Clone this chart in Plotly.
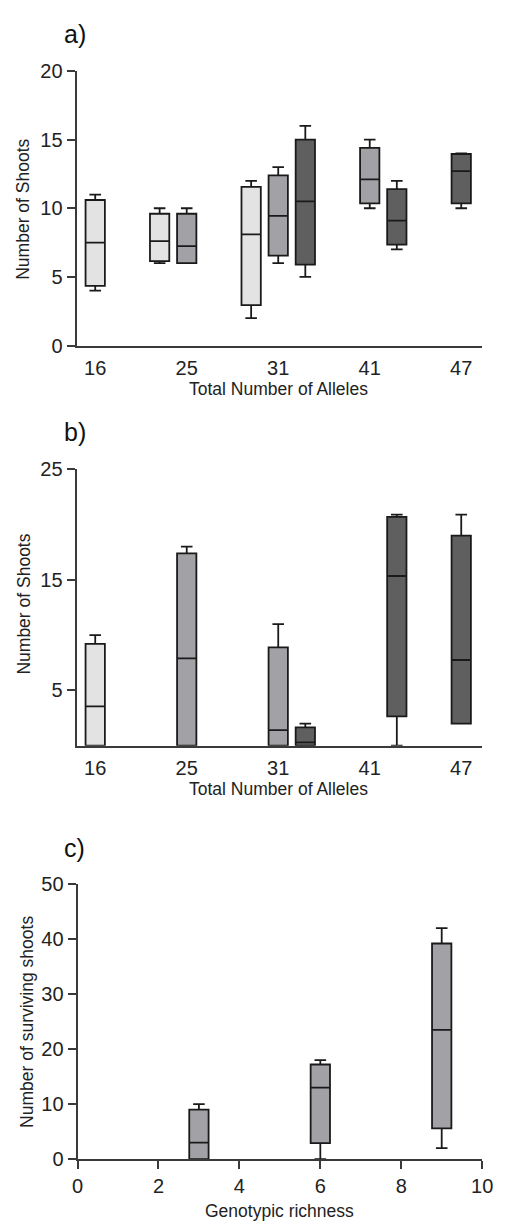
import plotly.graph_objects as go

# ---------------- data ----------------
allele_labels = ["16", "25", "31", "41", "47"]

# panel a: boxes (group = allele category, cls = genotypic richness class)
a_group = ["16", "25", "25", "31", "31", "31", "41", "41", "47"]
a_cls = [3, 3, 6, 3, 6, 9, 6, 9, 9]
a_slot = [0, -1, 0, -1, 0, 1, 0, 1, 0]
a_min = [4, 6, 6, 2, 6, 5, 10, 7, 10]
a_q1 = [4.35, 6.15, 6.0, 2.95, 6.55, 5.9, 10.35, 7.35, 10.35]
a_med = [7.5, 7.6, 7.25, 8.1, 9.45, 10.5, 12.1, 9.1, 12.7]
a_q3 = [10.6, 9.6, 9.6, 11.55, 12.4, 15.0, 14.4, 11.4, 13.95]
a_max = [11, 10, 10, 12, 13, 16, 15, 12, 14]

# panel b
b_group = ["16", "25", "31", "31", "41", "47"]
b_cls = [3, 6, 6, 9, 9, 9]
b_slot = [0, 0, 0, 1, 1, 0]
b_min = [0, 0, 0, 0, 0, 2.0]
b_q1 = [0, 0, 0, 0, 2.65, 2.0]
b_med = [3.55, 7.9, 1.4, 0.3, 15.35, 7.75]
b_q3 = [9.2, 17.4, 8.9, 1.65, 20.7, 19.0]
b_max = [10, 18, 11, 2, 20.9, 20.9]

# panel c
c_rich = [3, 6, 9]
c_min = [0, 0, 2]
c_q1 = [0, 2.9, 5.6]
c_med = [3.0, 13.0, 23.5]
c_q3 = [9.0, 17.2, 39.2]
c_max = [10, 18, 42]

# ---------------- styling ----------------
W, H = 507, 1231
FILL = {3: "#e3e3e3", 6: "#a2a2a6", 9: "#5f5f5f"}
EDGE = "#1a1a1a"
AX = "#3a3a3a"
FONT = "Liberation Sans, Arial, sans-serif"
SLOT = 0.296
BOXW_CAT = 0.211
BOXW_C = 0.478

fig = go.Figure()


def add_box(xpos, lo, q1, med, q3, hi, cls, xa, ya, width):
    fig.add_trace(go.Box(
        x=[xpos], q1=[q1], median=[med], q3=[q3],
        lowerfence=[lo], upperfence=[hi],
        width=width, whiskerwidth=0.6,
        fillcolor=FILL[cls], line=dict(color=EDGE, width=1.8),
        xaxis=xa, yaxis=ya, showlegend=False, hoverinfo="skip",
    ))


for g, c, s, lo, q1, md, q3, hi in zip(a_group, a_cls, a_slot, a_min, a_q1, a_med, a_q3, a_max):
    add_box(allele_labels.index(g) + s * SLOT, lo, q1, md, q3, hi, c, "x", "y", BOXW_CAT)

for g, c, s, lo, q1, md, q3, hi in zip(b_group, b_cls, b_slot, b_min, b_q1, b_med, b_q3, b_max):
    add_box(allele_labels.index(g) + s * SLOT, lo, q1, md, q3, hi, c, "x2", "y2", BOXW_CAT)

for r, lo, q1, md, q3, hi in zip(c_rich, c_min, c_q1, c_med, c_q3, c_max):
    add_box(r, lo, q1, md, q3, hi, 6, "x3", "y3", BOXW_C)


def px_x(p):
    return p / W


def px_y(p):
    return 1 - p / H


tickfont = dict(family=FONT, size=20, color="#222")
common_y = dict(showline=True, linecolor=AX, linewidth=2, ticks="outside", ticklen=8,
                tickwidth=1.6, tickcolor=AX, showgrid=False, zeroline=False,
                tickfont=tickfont)
cat_x = dict(showline=True, linecolor=AX, linewidth=2, ticks="outside", ticklen=3,
             tickcolor="rgba(0,0,0,0)", showgrid=False, zeroline=False,
             tickmode="array", tickvals=list(range(len(allele_labels))),
             ticktext=allele_labels, range=[-0.204, 4.232], tickfont=tickfont)

# width/height are given to the page's div (see write_html below) so the
# chart sits at the very top-left of the page with no body margin around it
fig.update_layout(
    autosize=True,
    margin=dict(l=0, r=0, t=0, b=0, pad=0),
    paper_bgcolor="white", plot_bgcolor="white",
    font=dict(family=FONT, color="#222"),
    boxmode="overlay",
    xaxis=dict(domain=[px_x(73), px_x(493)], anchor="y", **cat_x),
    yaxis=dict(domain=[px_y(340.7), px_y(61)], anchor="x", range=[0, 20],
               tickvals=[0, 5, 10, 15, 20], **common_y),
    xaxis2=dict(domain=[px_x(73), px_x(493)], anchor="y2", **cat_x),
    yaxis2=dict(domain=[px_y(748), px_y(466.7)], anchor="x2", range=[0, 25],
                tickvals=[5, 15, 25], **common_y),
    xaxis3=dict(domain=[px_x(74), px_x(492.7)], anchor="y3", range=[0, 10],
                showline=True, linecolor=AX, linewidth=2, ticks="outside", ticklen=8,
                tickwidth=1.6, tickcolor=AX, showgrid=False, zeroline=False,
                tickvals=[0, 2, 4, 6, 8, 10], tickfont=tickfont),
    yaxis3=dict(domain=[px_y(1169), px_y(889)], anchor="x3", range=[0, 50],
                tickvals=[0, 10, 20, 30, 40, 50], **common_y),
)

ann = []
title_font = dict(family=FONT, size=17.5, color="#222")
label_font = dict(family=FONT, size=25, color="#111")
for txt, x, y in [("a)", 71, 23), ("b)", 71, 429), ("c)", 71, 852)]:
    ann.append(dict(text=txt, x=px_x(x), y=px_y(y), xref="paper", yref="paper",
                    showarrow=False, font=label_font, xanchor="center", yanchor="middle"))
for txt, x, y in [("Total Number of Alleles", 282, 385), ("Total Number of Alleles", 282, 792),
                  ("Genotypic richness", 282.5, 1222)]:
    ann.append(dict(text=txt, x=px_x(x), y=px_y(y), xref="paper", yref="paper",
                    showarrow=False, font=title_font, xanchor="center", yanchor="middle"))
for txt, x, y in [("Number of Shoots", 18, 202), ("Number of Shoots", 19, 604),
                  ("Number of surviving shoots", 21, 1029)]:
    ann.append(dict(text=txt, x=px_x(x), y=px_y(y), xref="paper", yref="paper",
                    showarrow=False, font=title_font, textangle=-90,
                    xanchor="center", yanchor="middle"))
fig.update_layout(annotations=ann)

fig.write_html(
    "out.html",
    default_width=f"{W}px; position:absolute; left:0; top:0",
    default_height=f"{H}px",
)
